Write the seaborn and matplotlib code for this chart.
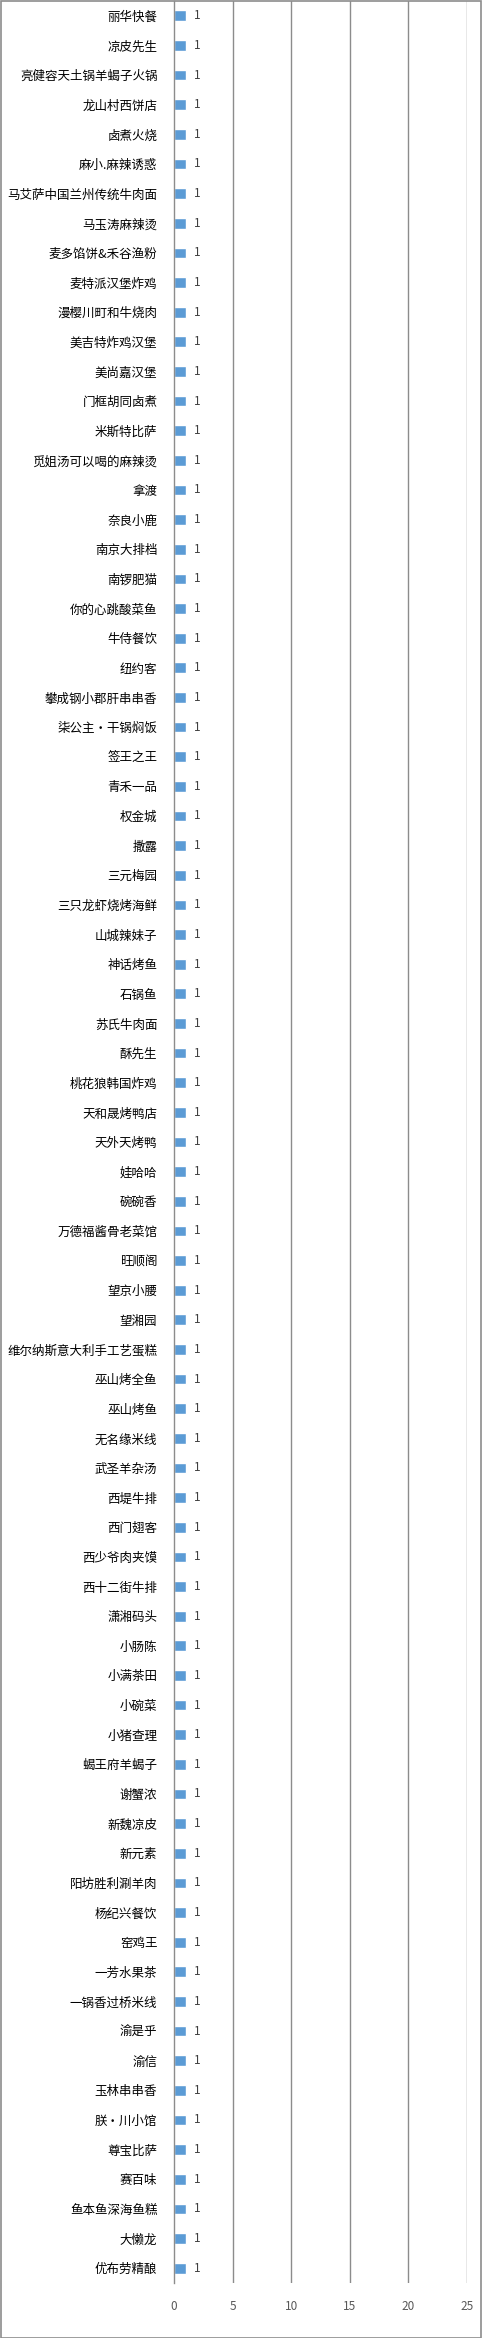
import matplotlib
matplotlib.use("Agg")
import matplotlib.pyplot as plt
import seaborn as sns
import pandas as pd

categories = [
    "丽华快餐", "凉皮先生", "亮健容天土锅羊蝎子火锅", "龙山村西饼店", "卤煮火烧",
    "麻小.麻辣诱惑", "马艾萨中国兰州传统牛肉面", "马玉涛麻辣烫", "麦多馅饼&禾谷渔粉",
    "麦特派汉堡炸鸡", "漫樱川町和牛烧肉", "美吉特炸鸡汉堡", "美尚嘉汉堡", "门框胡同卤煮",
    "米斯特比萨", "觅姐汤可以喝的麻辣烫", "拿渡", "奈良小鹿", "南京大排档", "南锣肥猫",
    "你的心跳酸菜鱼", "牛侍餐饮", "纽约客", "攀成钢小郡肝串串香", "柒公主·干锅焖饭",
    "签王之王", "青禾一品", "权金城", "撒露", "三元梅园", "三只龙虾烧烤海鲜",
    "山城辣妹子", "神话烤鱼", "石锅鱼", "苏氏牛肉面", "酥先生", "桃花狼韩国炸鸡",
    "天和晟烤鸭店", "天外天烤鸭", "娃哈哈", "碗碗香", "万德福酱骨老菜馆", "旺顺阁",
    "望京小腰", "望湘园", "维尔纳斯意大利手工艺蛋糕", "巫山烤全鱼", "巫山烤鱼",
    "无名缘米线", "武圣羊杂汤", "西堤牛排", "西门翅客", "西少爷肉夹馍", "西十二街牛排",
    "潇湘码头", "小肠陈", "小满茶田", "小碗菜", "小猪查理", "蝎王府羊蝎子", "谢蟹浓",
    "新魏凉皮", "新元素", "阳坊胜利涮羊肉", "杨纪兴餐饮", "窑鸡王", "一芳水果茶",
    "一锅香过桥米线", "渝是乎", "渝信", "玉林串串香", "朕·川小馆", "尊宝比萨", "赛百味",
    "鱼本鱼深海鱼糕", "大懒龙", "优布劳精酿",
]
values = [1] * len(categories)
x_ticks = [0, 5, 10, 15, 20, 25]

df = pd.DataFrame({"name": categories, "count": values})

sns.set_theme(style="white")
plt.rcParams["font.family"] = ["Noto Sans CJK SC", "DejaVu Sans"]

W, H = 482, 2338
fig = plt.figure(figsize=(W / 100, H / 100), dpi=100)
ax = fig.add_axes([174 / W, 1 - 2283 / H, (467 - 174) / W, (2283 - 1) / H])

sns.barplot(data=df, y="name", x="count", orient="h", color="#5B9BD5",
            width=0.36, saturation=1, ax=ax)

ax.set_xlim(0, 25)
ax.set_ylim(len(categories) - 0.5, -0.5)
ax.set_xticks(x_ticks)
ax.set_xticklabels([str(t) for t in x_ticks], fontsize=8.5, color="#595959")
ax.tick_params(axis="x", length=0, pad=12)
ax.tick_params(axis="y", length=0, pad=12, labelsize=9, labelcolor="#000000")
ax.set_xlabel("")
ax.set_ylabel("")
for t in x_ticks[1:]:
    ax.axvline(t, color="#8C8C8C", lw=1.0, zorder=0)
for s in ["top", "right", "bottom"]:
    ax.spines[s].set_visible(False)
ax.spines["left"].set_color("#8C8C8C")
ax.spines["left"].set_linewidth(1.0)

for c in ax.containers:
    ax.bar_label(c, labels=[str(v) for v in values], padding=6, fontsize=8.5,
                 color="#404040")

border = plt.Rectangle((0.5 / W, 0.5 / H), 1 - 1.5 / W, 1 - 1.5 / H,
                       transform=fig.transFigure, fill=False,
                       edgecolor="#8C8C8C", lw=1.2)
fig.patches.append(border)

fig.savefig("out.png", dpi=100, facecolor="white")
